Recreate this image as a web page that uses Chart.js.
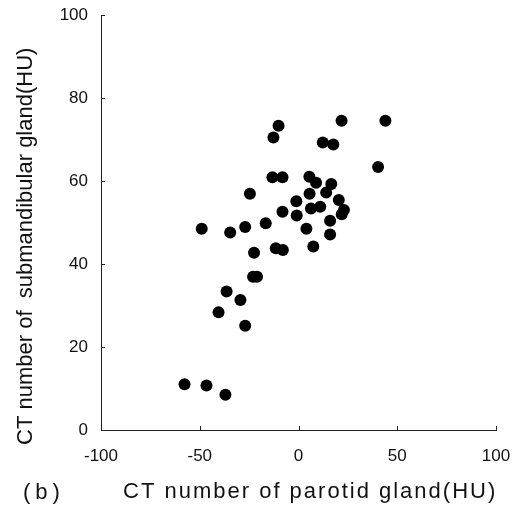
<!DOCTYPE html>
<html>
<head>
<meta charset="utf-8">
<script src="https://cdn.jsdelivr.net/npm/chart.js@4"></script>
<style>
  body { margin: 0; background: #fff; }
  #wrap { width: 519px; height: 510px; position: relative; }
</style>
</head>
<body>
<div id="wrap"><canvas id="chart"></canvas></div>
<script>
// CT number of parotid gland (HU) vs submandibular gland (HU)
const parotid = [
  -57.7, -46.6, -37, -40.5, -36.4, -29.4, -27, -23, -21, -22.5,
  -49, -34.6, -27, -16.6, -24.6, -11.5, -7.9, -8.1, -13.2, -8.1,
  -12.7, -10.1, -1.1, -0.9, 5.5, 8.9, 16.6, 5.6, 14, 20.4,
  6.3, 11, 23, 21.9, 16, 4, 16, 7.5, 12.3, 17.6,
  21.8, 44, 40.3
];
const submandibular = [
  11.0, 10.7, 8.5, 28.4, 33.4, 31.3, 25.1, 36.9, 36.9, 42.7,
  48.5, 47.6, 48.9, 49.8, 56.9, 43.8, 43.4, 52.6, 60.9, 60.9,
  70.5, 73.3, 55.1, 51.7, 61, 59.6, 59.3, 56.9, 57.2, 55.4,
  53.4, 53.8, 53, 52, 50.4, 48.5, 47.1, 44.2, 69.3, 68.8,
  74.5, 74.5, 63.4
];
const xTicks = [-100, -50, 0, 50, 100];
const yTicks = [0, 20, 40, 60, 80, 100];
const xTitle = 'CT number of parotid gland(HU)';
const yTitle = 'CT number of  submandibular gland(HU)';
const panelLabel = '(b)';

const points = parotid.map((x, i) => ({ x: x, y: submandibular[i] }));
const fontFamily = '"Liberation Sans", Arial, sans-serif';

// small inward ticks plus axis titles and the panel letter
const decorations = {
  id: 'decorations',
  afterDraw(chart) {
    const { ctx, chartArea, scales: { x, y } } = chart;
    ctx.save();
    ctx.strokeStyle = '#222';
    ctx.lineWidth = 1;
    ctx.beginPath();
    xTicks.forEach(v => {
      const px = Math.round(x.getPixelForValue(v)) + 0.5;
      ctx.moveTo(px, chartArea.bottom);
      ctx.lineTo(px, chartArea.bottom - 4);
    });
    yTicks.forEach(v => {
      const py = Math.round(y.getPixelForValue(v)) + 0.5;
      ctx.moveTo(chartArea.left, py);
      ctx.lineTo(chartArea.left + 4, py);
    });
    ctx.stroke();

    ctx.fillStyle = '#111';
    ctx.textBaseline = 'alphabetic';
    ctx.textAlign = 'left';
    ctx.font = '22px ' + fontFamily;
    ctx.letterSpacing = '2px';
    ctx.fillText(xTitle, 123, 498);

    ctx.letterSpacing = '5px';
    ctx.fillText(panelLabel, 23, 499);

    ctx.letterSpacing = '0px';
    ctx.translate(32, 445);
    ctx.rotate(-Math.PI / 2);
    ctx.fillText(yTitle, 0, 0);
    ctx.restore();
  }
};

new Chart(document.getElementById('chart').getContext('2d'), {
  type: 'scatter',
  data: {
    datasets: [{
      data: points,
      backgroundColor: '#000',
      borderWidth: 0,
      pointRadius: 6,
      pointHoverRadius: 6
    }]
  },
  options: {
    responsive: true,
    maintainAspectRatio: false,
    animation: false,
    layout: { padding: { top: 15, right: 23, bottom: 0, left: 0 } },
    plugins: { legend: { display: false }, tooltip: { enabled: false } },
    scales: {
      x: {
        type: 'linear',
        min: -100,
        max: 100,
        afterBuildTicks: s => { s.ticks = xTicks.map(v => ({ value: v })); },
        afterFit: s => {
          s.height = 80;
          s.paddingLeft = 0;
          s.paddingRight = 0;
        },
        grid: { display: false, drawTicks: false },
        border: { color: '#222', width: 1 },
        ticks: { padding: 16, color: '#111', font: { size: 17, family: fontFamily } }
      },
      y: {
        type: 'linear',
        min: 0,
        max: 100,
        afterBuildTicks: s => { s.ticks = yTicks.map(v => ({ value: v })); },
        afterFit: s => {
          s.width = 101;
          s.paddingTop = 0;
          s.paddingBottom = 0;
        },
        grid: { display: false, drawTicks: false },
        border: { color: '#222', width: 1 },
        ticks: { padding: 13, color: '#111', font: { size: 17, family: fontFamily } }
      }
    }
  },
  plugins: [decorations]
});
</script>
</body>
</html>
